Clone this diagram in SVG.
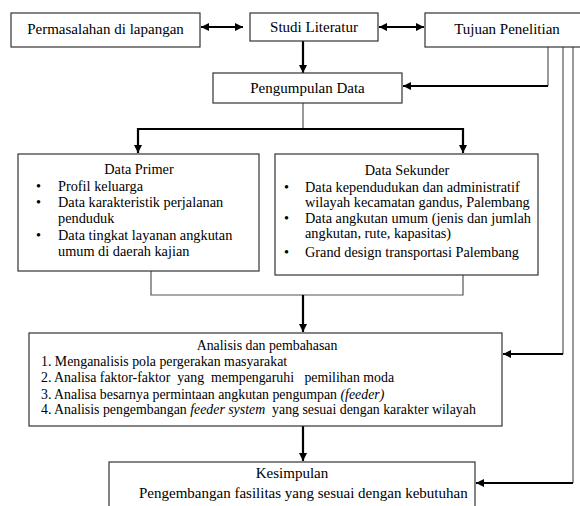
<svg xmlns="http://www.w3.org/2000/svg" width="580" height="506" viewBox="0 0 580 506">
<defs>
<marker id="ah" viewBox="0 0 8 8" refX="8" refY="4" markerWidth="8" markerHeight="8" markerUnits="userSpaceOnUse" orient="auto-start-reverse">
<path d="M0,0 L8,4 L0,8 z" fill="#000"/>
</marker>
<style>
.box{fill:#fff;stroke:#333;stroke-width:1.2}
.t{font-family:'Liberation Serif','Times New Roman',serif;font-size:15px;fill:#000}
.d{font-size:14.3px}
.s{font-size:13.85px}
.c{text-anchor:middle}
.thick{fill:none;stroke:#000;stroke-width:2.2}
.thin{fill:none;stroke:#555;stroke-width:1.2}
</style>
</defs>
<rect width="580" height="506" fill="#fff"/>
<g id="connectors">
<line class="thick" x1="201" y1="27" x2="243" y2="27" marker-start="url(#ah)" marker-end="url(#ah)"/>
<line class="thick" x1="379" y1="27" x2="424" y2="27" marker-start="url(#ah)" marker-end="url(#ah)"/>
<line class="thick" x1="303" y1="41" x2="303" y2="73" marker-end="url(#ah)"/>
<polyline class="thin" points="548,47 548,86"/>
<line class="thick" x1="548" y1="86" x2="403" y2="86" marker-end="url(#ah)"/>
<polyline class="thin" points="563,47 563,354"/>
<line class="thick" x1="563" y1="354" x2="503" y2="354" marker-end="url(#ah)"/>
<polyline class="thin" points="573,47 573,483"/>
<line class="thick" x1="573" y1="483" x2="476" y2="483" marker-end="url(#ah)"/>
<line class="thin" x1="303" y1="103" x2="303" y2="129"/>
<polyline class="thick" points="138,153 138,129 463,129 463,153" marker-start="url(#ah)" marker-end="url(#ah)"/>
<polyline class="thin" points="151,271 151,295 463,295 463,275"/>
<line class="thick" x1="303" y1="295" x2="303" y2="332" marker-end="url(#ah)"/>
<line class="thick" x1="303" y1="426" x2="303" y2="461" marker-end="url(#ah)"/>
</g>
<g id="permasalahan">
<rect class="box" x="11" y="13" width="189" height="34"/>
<text class="t c" x="105.5" y="34">Permasalahan di lapangan</text>
</g>
<g id="studi">
<rect class="box" x="250" y="13" width="128" height="28"/>
<text class="t c" x="314" y="32">Studi Literatur</text>
</g>
<g id="tujuan">
<rect class="box" x="425" y="13" width="165" height="34"/>
<text class="t c" x="507" y="34">Tujuan Penelitian</text>
</g>
<g id="pengumpulan">
<rect class="box" x="213" y="73" width="189" height="30"/>
<text class="t c" x="307.5" y="93">Pengumpulan Data</text>
</g>
<g id="primer">
<rect class="box" x="18" y="154" width="241" height="117"/>
<text class="t d c" x="139" y="174">Data Primer</text>
<text class="t d" x="36" y="191">•</text><text class="t d" x="58" y="191">Profil keluarga</text>
<text class="t d" x="36" y="207">•</text><text class="t d" x="58" y="207">Data karakteristik perjalanan</text>
<text class="t d" x="58" y="223">penduduk</text>
<text class="t d" x="36" y="240">•</text><text class="t d" x="58" y="240">Data tingkat layanan angkutan</text>
<text class="t d" x="58" y="256">umum di daerah kajian</text>
</g>
<g id="sekunder">
<rect class="box" x="275" y="154" width="263" height="121"/>
<text class="t d c" x="407" y="175">Data Sekunder</text>
<text class="t d" x="284" y="192">•</text><text class="t d" x="305" y="192">Data kependudukan dan administratif</text>
<text class="t d" x="305" y="207">wilayah kecamatan gandus, Palembang</text>
<text class="t d" x="284" y="223">•</text><text class="t d" x="305" y="223">Data angkutan umum (jenis dan jumlah</text>
<text class="t d" x="305" y="238">angkutan, rute, kapasitas)</text>
<text class="t d" x="284" y="257">•</text><text class="t d" x="305" y="257">Grand design transportasi Palembang</text>
</g>
<g id="analisis">
<rect class="box" x="29" y="333" width="473" height="93"/>
<text class="t s c" x="267" y="350">Analisis dan pembahasan</text>
<text class="t s" x="41" y="366">1. Menganalisis pola pergerakan masyarakat</text>
<text class="t s" x="41" y="382" xml:space="preserve">2. Analisa faktor-faktor  yang  mempengaruhi   pemilihan moda</text>
<text class="t s" x="41" y="399">3. Analisa besarnya permintaan angkutan pengumpan <tspan font-style="italic">(feeder)</tspan></text>
<text class="t s" x="41" y="414" xml:space="preserve">4. Analisis pengembangan <tspan font-style="italic">feeder system</tspan>  yang sesuai dengan karakter wilayah</text>
</g>
<g id="kesimpulan">
<rect class="box" x="109" y="462" width="366" height="50"/>
<text class="t c" x="292" y="478">Kesimpulan</text>
<text class="t" x="139" y="498">Pengembangan fasilitas yang sesuai dengan kebutuhan</text>
</g>
</svg>
